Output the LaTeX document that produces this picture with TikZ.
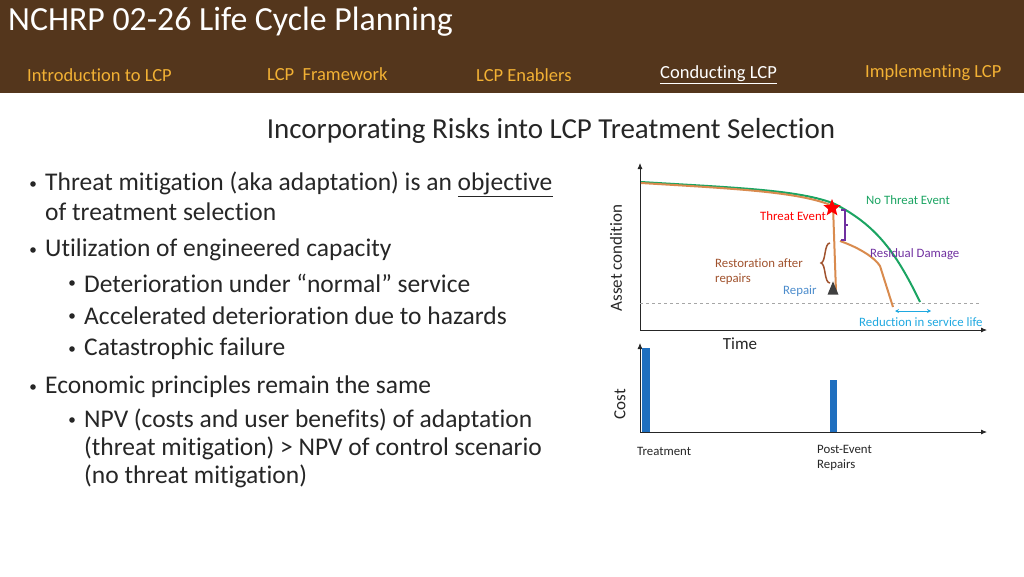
\documentclass[tikz,border=0pt]{standalone}
\usepackage{fontspec}
\setmainfont[Ligatures=NoCommon]{Carlito}
\usetikzlibrary{shapes.geometric,arrows.meta}
\definecolor{hdr}{HTML}{54361C}
\definecolor{nav}{HTML}{F2B134}
\definecolor{grn}{HTML}{1BA462}
\definecolor{org}{HTML}{D98B4E}
\definecolor{brn}{HTML}{A0522D}
\definecolor{pur}{HTML}{7030A0}
\definecolor{cyn}{HTML}{1FA8E0}
\definecolor{blu}{HTML}{1F6FBF}
\definecolor{txt}{HTML}{262626}
\begin{document}
\begin{tikzpicture}[x=1pt,y=-1pt,
  navt/.style={anchor=west,text=nav,font=\fontsize{18.5}{20}\selectfont,inner sep=0},
  bul/.style={anchor=west,text=txt,font=\fontsize{25.5}{28}\selectfont,inner sep=0},
  lab/.style={font=\fontsize{12.8}{15}\selectfont,inner sep=0,align=left},
  axl/.style={text=txt,font=\fontsize{17}{19}\selectfont,inner sep=0},
  ax/.style={line width=0.8pt,-{Latex[length=6pt,width=5pt]},txt}]
\useasboundingbox (0,0) rectangle (1024,576);
\fill[hdr] (0,0) rectangle (1024,93);
\node[anchor=west,text=white,font=\fontsize{33.8}{36}\selectfont,inner sep=0] (t) at (8,22) {NCHRP 02-26 Life Cycle Planning};
\node[navt] (n1) at (27,75) {Introduction to LCP};
\node[navt] (n2) at (267,74) {LCP\ \ Framework};
\node[navt] (n3) at (476,75) {LCP Enablers};
\node[navt,text=white] (n4) at (660,75) {\underline{Conducting LCP}};
\node[navt] (n5) at (865,73) {Implementing LCP};
\node[text=txt,font=\fontsize{29}{32}\selectfont,inner sep=0] (st) at (551,131) {Incorporating Risks into LCP Treatment Selection};
% bullets
\foreach \y/\x/\s in {184/45/Threat mitigation (aka adaptation) is an \underline{objective},212/45/of treatment selection,250/45/Utilization of engineered capacity,283/84/Deterioration under “normal” service,316/84/Accelerated deterioration due to hazards,349/84/Catastrophic failure,387/45/Economic principles remain the same,420/84/NPV (costs and user benefits) of adaptation,448/84/(threat mitigation) > NPV of control scenario,476/84/(no threat mitigation)}
  \node[bul] at (\x,\y) {\s};
\foreach \y in {184,250,387} \fill[txt] (33,\y) circle (2.8);
\foreach \y in {283,316,349,420} \fill[txt] (72,\y) circle (2.8);
% upper chart
\coordinate (o1) at (640,330);
\draw[ax] (o1) -- (640,163);
\draw[ax] (o1) -- (987,330);
\draw[gray!70,dashed,line width=0.5pt] (640,303) -- (980,303);
\draw[grn,line width=2pt] (641,182) .. controls (740,188) and (800,190) .. (835,204) .. controls (875,225) and (895,250) .. (920,302);
\draw[org,line width=2pt] (641,183) .. controls (740,189) and (800,192) .. (833,206) -- (836,292);
\draw[org,line width=2pt] (840,241) .. controls (860,248) and (875,258) .. (880,266) -- (893,307);
\node[star,star points=5,star point ratio=2.3,fill=red,minimum size=18pt,inner sep=0] (star) at (832,208) {};
\node[isosceles triangle,shape border rotate=90,fill=black!75,minimum width=11pt,minimum height=10pt,inner sep=0] (tri) at (833,291) {};
\draw[pur,line width=1.2pt] (841,210) -- (845,210) -- (845,240) -- (841,240);
\draw[pur,line width=1.2pt] (845,225) -- (848,225);
\draw[brn,line width=1.5pt] (830,243) .. controls (824,243) and (826,262) .. (821,263) .. controls (826,264) and (824,283) .. (830,283);
\coordinate (ca) at (895,311);
\coordinate (cb) at (931,311);
\draw[cyn,line width=1pt,{Stealth[length=4pt,width=4pt]}-{Stealth[length=4pt,width=4pt]}] (ca) -- (cb);
\node[lab,text=grn,anchor=west] (l1) at (866,200) {No Threat Event};
\node[lab,text=red,anchor=west] (l2) at (760,216) {Threat Event};
\node[lab,text=pur,anchor=west] (l3) at (870,254) {Residual Damage};
\node[lab,text=brn,anchor=north west] (l4) at (715,258) {Restoration after\\repairs};
\node[lab,text=blu!80,anchor=west] (l5) at (783,291) {Repair};
\node[lab,text=cyn,anchor=west] (l6) at (859,322) {Reduction in service life};
\node[axl,rotate=90] (ya) at (616,258) {Asset condition};
\node[axl] (xa) at (740,344) {Time};
% lower chart
\draw[ax] (640,432) -- (640,343);
\draw[ax] (640,432) -- (987,432);
\fill[blu] (642,348) rectangle (650,432);
\fill[blu] (830,380) rectangle (837,432);
\node[axl,rotate=90] (yb) at (620,404) {Cost};
\node[lab,text=txt,anchor=west] (b1) at (637,451) {Treatment};
\node[lab,text=txt,anchor=north west] (b2) at (817,445) {Post-Event\\Repairs};
\end{tikzpicture}
\end{document}
